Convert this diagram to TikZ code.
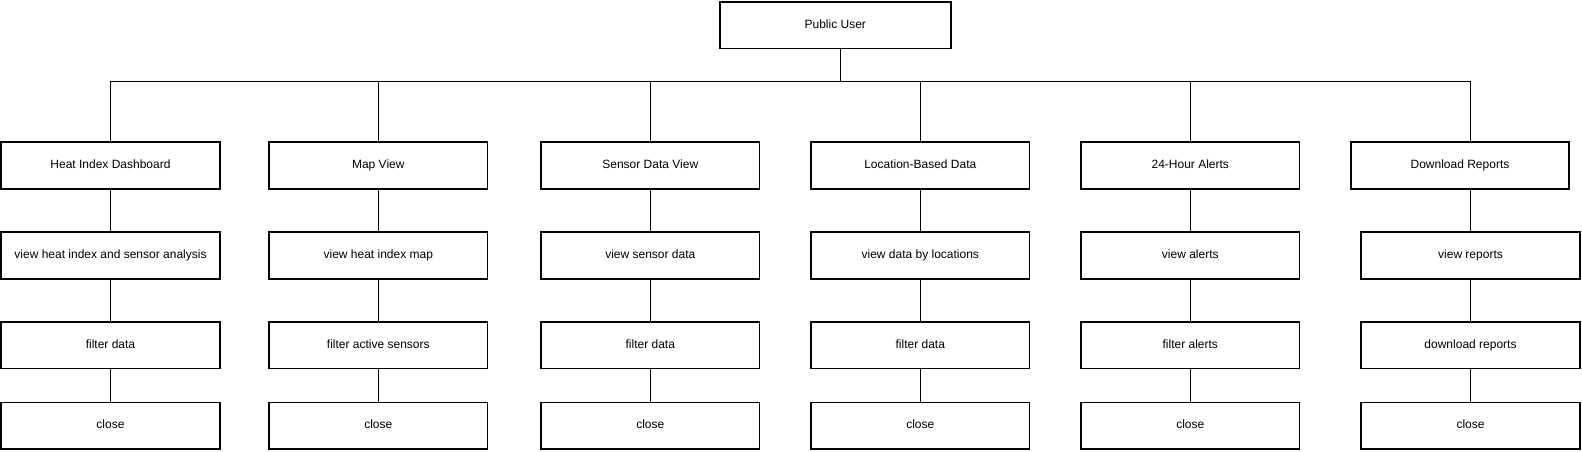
\documentclass[tikz,border=0pt]{standalone}
\usepackage{fontspec}
\setmainfont{Liberation Sans}
\begin{document}
\begin{tikzpicture}[x=1pt,y=1pt,
  box/.style={draw=black,line width=1.8pt,fill=white,minimum width=218.5pt,minimum height=46.5pt,inner sep=0pt,font=\fontsize{12}{14}\selectfont,text height=8.6pt,text depth=2.4pt},
  topbox/.style={box,minimum width=231pt},
  conn/.style={draw=black,line width=1pt}]
\useasboundingbox (0,0) rectangle (1582,-451);
\fill[white] (0,0) rectangle (1582,-451);
% top
\node[topbox] (pu) at (835.3,-25.3) {Public User};
% row heights
\def\yA{-165.5}\def\yB{-255.5}\def\yC{-345.3}\def\yD{-425.8}
\node[box] (h1) at (110.5,\yA) {Heat Index Dashboard};
\node[box] (h2) at (378.3,\yA) {Map View};
\node[box] (h3) at (650.3,\yA) {Sensor Data View};
\node[box] (h4) at (920.3,\yA) {Location-Based Data};
\node[box] (h5) at (1190.3,\yA) {24-Hour Alerts};
\node[box] (h6) at (1460,\yA) {Download Reports};
\node[box] (v1) at (110.5,\yB) {view heat index and sensor analysis};
\node[box] (v2) at (378.3,\yB) {view heat index map};
\node[box] (v3) at (650.3,\yB) {view sensor data};
\node[box] (v4) at (920.3,\yB) {view data by locations};
\node[box] (v5) at (1190.3,\yB) {view alerts};
\node[box] (v6) at (1470.5,\yB) {view reports};
\node[box] (f1) at (110.5,\yC) {filter data};
\node[box] (f2) at (378.3,\yC) {filter active sensors};
\node[box] (f3) at (650.3,\yC) {filter data};
\node[box] (f4) at (920.3,\yC) {filter data};
\node[box] (f5) at (1190.3,\yC) {filter alerts};
\node[box] (f6) at (1470.5,\yC) {download reports};
\node[box] (c1) at (110.5,\yD) {close};
\node[box] (c2) at (378.3,\yD) {close};
\node[box] (c3) at (650.3,\yD) {close};
\node[box] (c4) at (920.3,\yD) {close};
\node[box] (c5) at (1190.3,\yD) {close};
\node[box] (c6) at (1470.5,\yD) {close};
% bus coordinates
\coordinate (b0) at (840.3,-81);
\coordinate (b1) at (110.5,-81);
\coordinate (b2) at (378.3,-81);
\coordinate (b3) at (650.3,-81);
\coordinate (b4) at (920.3,-81);
\coordinate (b5) at (1190.3,-81);
\coordinate (b6) at (1470.7,-81);
\draw[conn] (pu.south -| b0) -- (b0);
\draw[conn] (b1) -- (b6);
\draw[conn] (b1) -- (h1.north);
\draw[conn] (b2) -- (h2.north);
\draw[conn] (b3) -- (h3.north);
\draw[conn] (b4) -- (h4.north);
\draw[conn] (b5) -- (h5.north);
\draw[conn] (b6) -- (h6.north -| b6);
\foreach \i in {1,...,5}{
  \draw[conn] (h\i.south) -- (v\i.north);
  \draw[conn] (v\i.south) -- (f\i.north);
  \draw[conn] (f\i.south) -- (c\i.north);
}
\draw[conn] (h6.south -| v6) -- (v6.north);
\draw[conn] (v6.south) -- (f6.north);
\draw[conn] (f6.south) -- (c6.north);
\end{tikzpicture}
\end{document}
